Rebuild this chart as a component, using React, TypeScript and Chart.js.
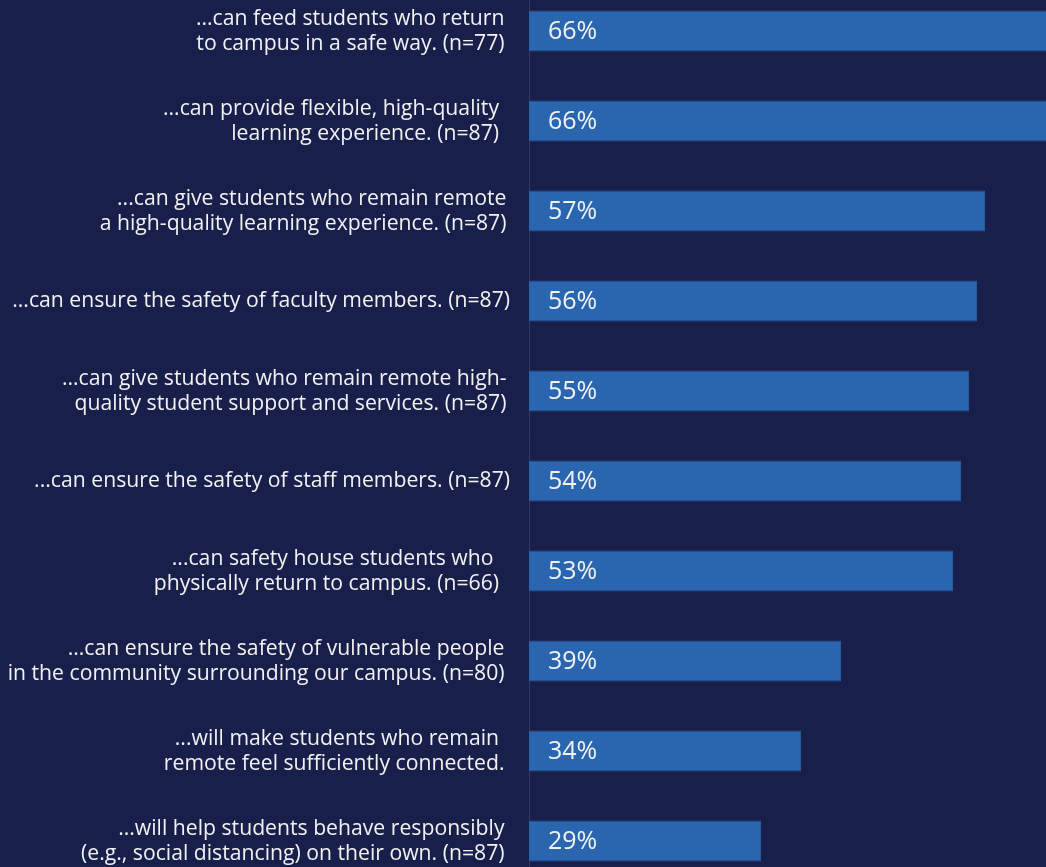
import React, { useEffect, useRef } from "react";
import { Chart, registerables } from "chart.js";

Chart.register(...registerables);

const categories: string[][] = [
  ["...can feed students who return ", "to campus in a safe way. (n=77) "],
  ["...can provide flexible, high-quality  ", "learning experience. (n=87)  "],
  ["...can give students who remain remote\u2009", "a high-quality learning experience. (n=87)\u2009"],
  ["...can ensure the safety of faculty members. (n=87)"],
  ["...can give students who remain remote high-\u2009", "quality student support and services. (n=87)\u2009"],
  ["...can ensure the safety of staff members. (n=87)"],
  ["...can safety house students who   ", "physically return to campus. (n=66)  "],
  ["...can ensure the safety of vulnerable people ", "in the community surrounding our campus. (n=80) "],
  ["...will make students who remain  ", "remote feel sufficiently connected. "],
  ["...will help students behave responsibly ", "(e.g., social distancing) on their own. (n=87) "],
];

const values: number[] = [66, 66, 57, 56, 55, 54, 53, 39, 34, 29];
const valueLabels: string[] = ["66%", "66%", "57%", "56%", "55%", "54%", "53%", "39%", "34%", "29%"];

const BG = "#191f4b";
const BAR = "#2a65b0";
const BAR_BORDER = "#285a9f";
const TEXT = "#f2f2f2";
const FONT = "'Open Sans', 'Noto Sans', sans-serif";

export default function App() {
  const ref = useRef<HTMLCanvasElement | null>(null);

  useEffect(() => {
    if (!ref.current) return;
    const valuePlugin = {
      id: "valueLabels",
      afterDatasetsDraw(chart: any) {
        const ctx = chart.ctx;
        const meta = chart.getDatasetMeta(0);
        ctx.save();
        ctx.fillStyle = TEXT;
        ctx.font = `25px ${FONT}`;
        ctx.textAlign = "left";
        ctx.textBaseline = "middle";
        meta.data.forEach((el: any, i: number) => {
          const x0 = chart.scales.x.getPixelForValue(0);
          ctx.fillText(valueLabels[i], x0 + 19, el.y + 1);
        });
        ctx.restore();
      },
    };
    const chart = new Chart(ref.current, {
      type: "bar",
      data: {
        labels: categories,
        datasets: [
          {
            data: values,
            backgroundColor: BAR,
            borderColor: BAR_BORDER,
            borderWidth: 1,
            barPercentage: 41 / 90,
            categoryPercentage: 1,
          },
        ],
      },
      options: {
        indexAxis: "y",
        animation: false,
        responsive: false,
        maintainAspectRatio: false,
        layout: { padding: 0 },
        plugins: {
          legend: { display: false },
          tooltip: { enabled: false },
        },
        scales: {
          x: {
            display: false,
            min: 0,
            max: 64.625,
          },
          y: {
            position: "left",
            afterFit(scale: any) {
              scale.width = 529;
              scale.paddingTop = 0;
              scale.paddingBottom = 0;
            },
            grid: { display: false, drawTicks: false },
            border: { display: true, color: "rgba(70,75,110,0.6)", width: 1 },
            ticks: {
              color: TEXT,
              padding: 19,
              font: { family: FONT, size: 21.2, lineHeight: 25 / 21.2 },
              autoSkip: false,
            },
          },
        },
      },
      plugins: [valuePlugin],
    });
    return () => chart.destroy();
  }, []);

  return (
    <div
      style={{
        position: "fixed",
        left: 0,
        top: 0,
        width: 1046,
        height: 867,
        overflow: "hidden",
        background: BG,
      }}
    >
      <canvas
        ref={ref}
        width={1046}
        height={900}
        style={{ position: "absolute", left: 0, top: -14, width: 1046, height: 900 }}
      />
    </div>
  );
}
